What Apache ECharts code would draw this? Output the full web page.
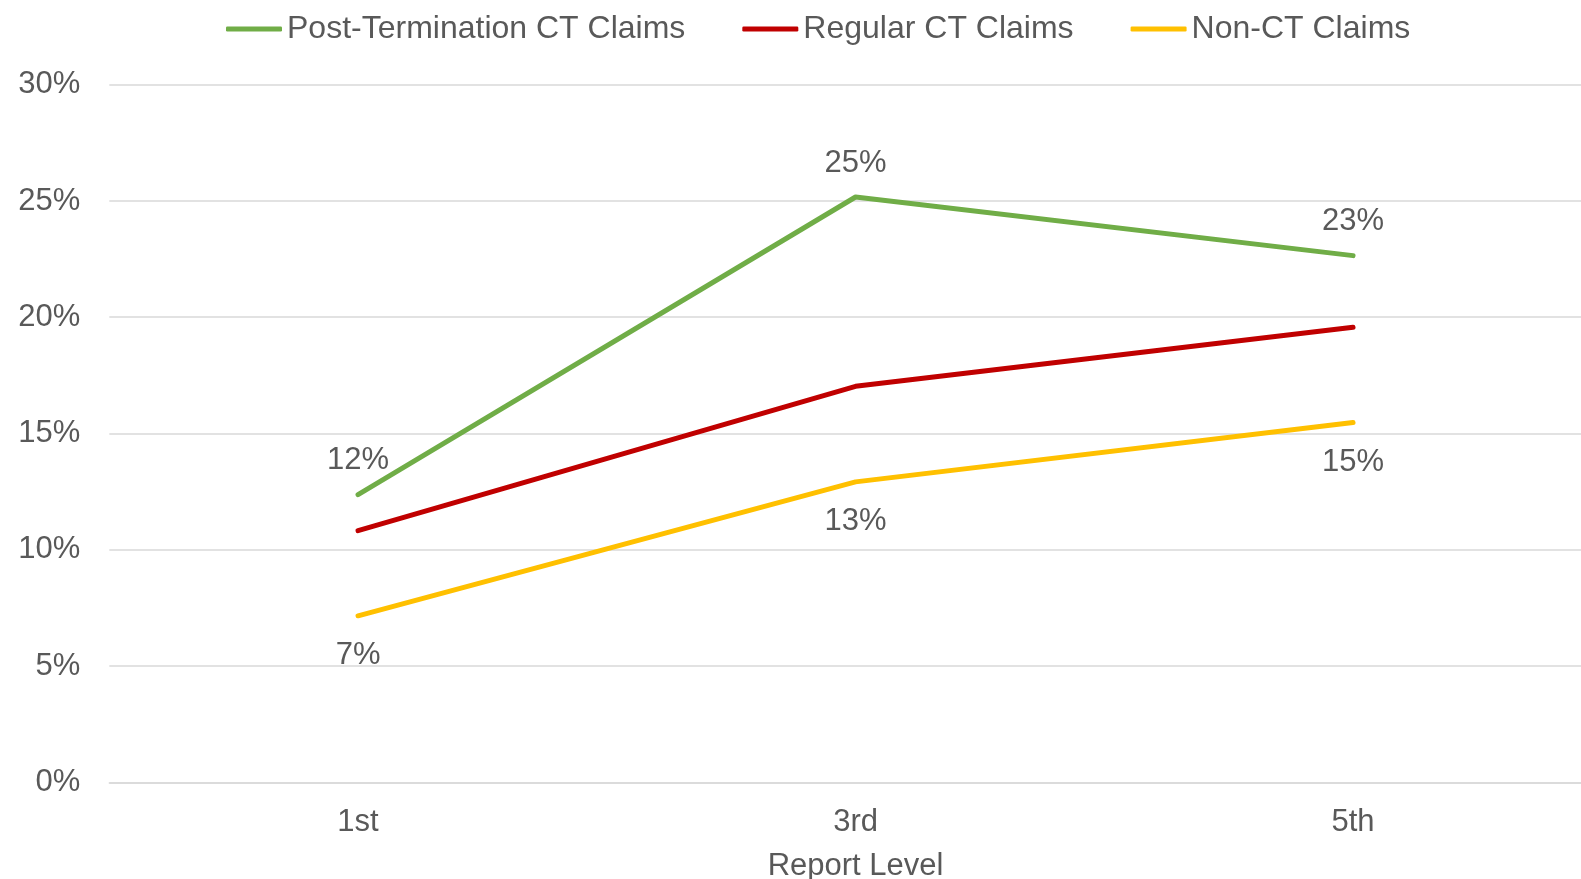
<!DOCTYPE html>
<html>
<head>
<meta charset="utf-8">
<script src="https://cdn.jsdelivr.net/npm/echarts@6/dist/echarts.min.js"></script>
<style>
html,body{margin:0;padding:0;background:#fff;}
#chart{width:1581px;height:879px;}
</style>
</head>
<body>
<div id="chart"></div>
<script>
const categories = ['1st', '3rd', '5th'];
const postTermination = [12.37, 25.17, 22.65];
const regularCT = [10.82, 17.03, 19.57];
const nonCT = [7.16, 12.92, 15.47];
const yTicks = [0, 5, 10, 15, 20, 25, 30];
const seriesNames = ['Post-Termination CT Claims', 'Regular CT Claims', 'Non-CT Claims'];
const seriesColors = ['#70AD47', '#C00000', '#FFC000'];

const textColor = '#595959';
const font = 'Liberation Sans, Arial, sans-serif';

const chart = echarts.init(document.getElementById('chart'));

function lineSeries(i, data, labelPos, dist) {
  const color = seriesColors[i];
  return {
    name: seriesNames[i],
    type: 'line',
    data: data,
    symbol: 'circle',
    symbolSize: 1,
    showSymbol: true,
    itemStyle: { color: color },
    lineStyle: { color: color, width: 5, cap: 'round', join: 'round' },
    emphasis: { disabled: true },
    label: labelPos ? {
      show: true,
      position: labelPos,
      distance: dist,
      color: textColor,
      fontFamily: font,
      fontSize: 31,
      formatter: p => Math.round(p.value) + '%'
    } : { show: false },
    animation: false
  };
}

chart.setOption({
  backgroundColor: '#ffffff',
  animation: false,
  legend: {
    left: 221,
    top: 8,
    padding: 5,
    itemGap: 57,
    itemWidth: 56,
    itemHeight: 5,
    icon: 'roundRect',
    textStyle: { color: textColor, fontFamily: font, fontSize: 32, lineHeight: 32 },
    data: seriesNames.map((n, i) => ({ name: n, icon: 'roundRect', itemStyle: { color: seriesColors[i], opacity: 1 } }))
  },
  grid: { left: 109.3, right: -20.8, top: 84.7, bottom: 96.7, containLabel: false, outerBoundsMode: 'none' },
  xAxis: {
    type: 'category',
    data: categories,
    boundaryGap: true,
    name: 'Report Level',
    nameLocation: 'middle',
    nameGap: 68.5,
    nameTextStyle: { color: textColor, fontFamily: font, fontSize: 31 },
    axisLine: { show: true, lineStyle: { color: '#D9D9D9', width: 1.5 } },
    axisTick: { show: false },
    axisLabel: { color: textColor, fontFamily: font, fontSize: 31, margin: 25 }
  },
  yAxis: {
    type: 'value',
    min: yTicks[0],
    max: yTicks[yTicks.length - 1],
    interval: yTicks[1] - yTicks[0],
    axisLine: { show: false },
    axisTick: { show: false },
    splitLine: { show: true, lineStyle: { color: '#D9D9D9', width: 1.5 } },
    axisLabel: { color: textColor, fontFamily: font, fontSize: 31, margin: 29, padding: [8, 0, 0, 0], formatter: '{value}%' }
  },
  series: [
    lineSeries(0, postTermination, 'top', 18),
    lineSeries(1, regularCT, null, 0),
    lineSeries(2, nonCT, 'bottom', 24)
  ]
});
</script>
</body>
</html>
